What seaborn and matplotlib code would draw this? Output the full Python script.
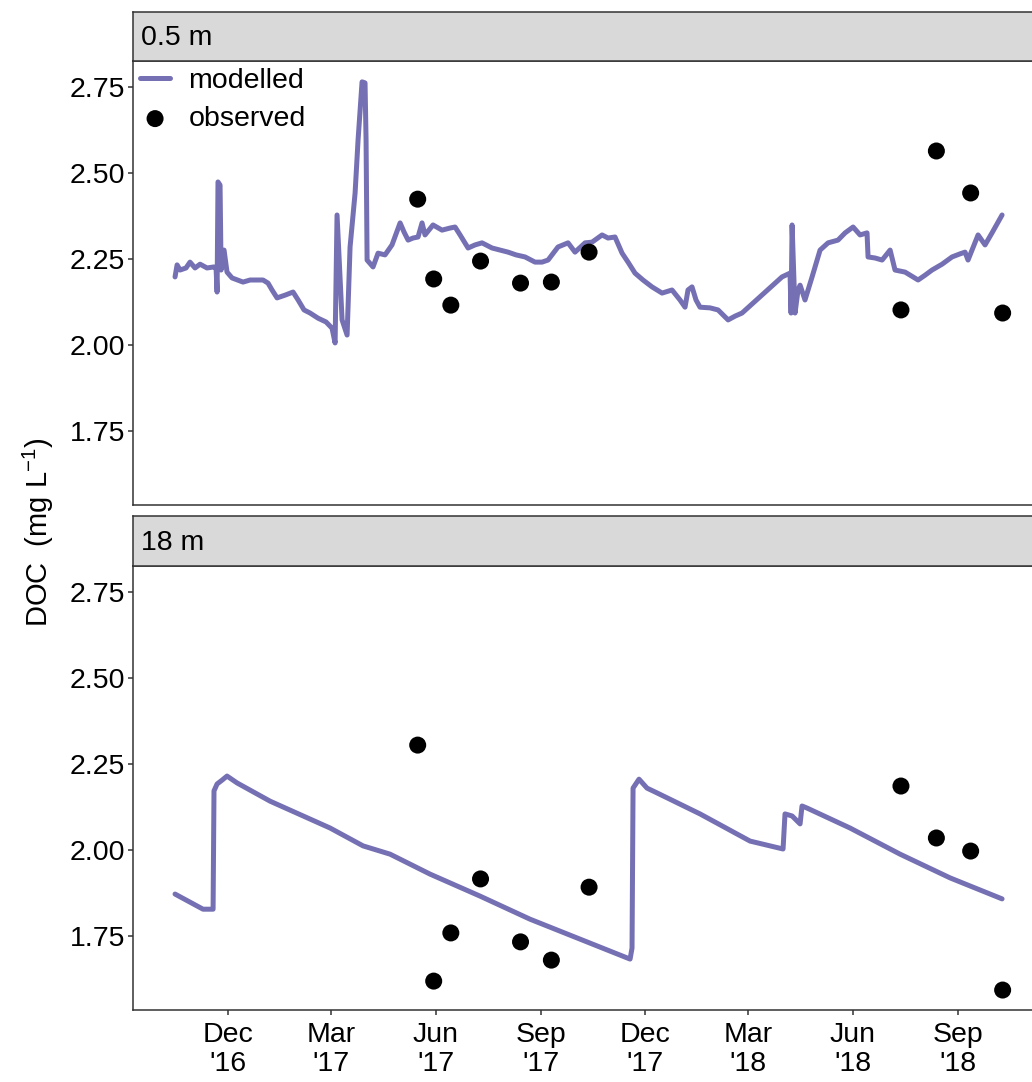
import pandas as pd
import matplotlib
matplotlib.use("Agg")
import matplotlib.pyplot as plt
import matplotlib.dates as mdates
from matplotlib.ticker import FuncFormatter
import seaborn as sns

# ---------------------------------------------------------------------------
# Data
# ---------------------------------------------------------------------------
origin = pd.Timestamp("2016-12-01")

# Modelled DOC at 0.5 m (days since 1 Dec 2016, mg/L)
surface_days = [
    -46.4, -44.6, -42.0, -36.8, -33.3, -28.9, -24.5, -18.4, -12.3, -10.5,
    -9.6, -8.8, -7.0, -6.1, -3.5, -0.9, 3.5, 13.1, 19.3, 30.6,
    35.0, 38.5, 42.9, 49.9, 56.9, 61.3, 66.5, 71.8, 78.8, 85.8,
    91.0, 93.7, 95.4, 99.8, 104.2, 106.8, 111.2, 113.8, 117.3, 119.9,
    120.8, 121.7, 126.9, 131.3, 137.4, 143.5, 150.6, 154.1, 157.6, 161.9,
    166.3, 169.8, 172.4, 179.4, 187.3, 194.3, 198.7, 203.1, 210.1, 216.2,
    222.3, 231.1, 238.1, 245.1, 252.1, 260.0, 268.7, 274.8, 280.1, 288.8,
    297.6, 303.7, 312.5, 318.6, 327.4, 332.6, 338.7, 344.9, 350.1, 356.2,
    363.2, 371.1, 379.9, 388.6, 395.6, 400.0, 402.6, 406.1, 409.6, 413.1,
    421.9, 428.9, 437.7, 443.8, 449.9, 484.9, 491.9, 492.8, 493.7, 496.3,
    498.9, 500.7, 505.0, 511.2, 518.2, 525.2, 533.9, 540.1, 547.1, 553.2,
    559.3, 560.2, 566.3, 572.5, 579.5, 583.8, 592.6, 604.0, 610.1, 616.2,
    625.0, 633.7, 640.7, 645.1, 647.7, 656.5, 662.6, 668.7, 677.5,
]
surface_doc = [
    2.198, 2.233, 2.218, 2.224, 2.241, 2.224, 2.235, 2.224, 2.227, 2.224,
    2.154, 2.474, 2.465, 2.218, 2.276, 2.212, 2.195, 2.183, 2.189, 2.189,
    2.180, 2.160, 2.137, 2.145, 2.154, 2.131, 2.102, 2.093, 2.078, 2.067,
    2.049, 2.006, 2.378, 2.073, 2.029, 2.285, 2.442, 2.596, 2.765, 2.762,
    2.596, 2.247, 2.227, 2.267, 2.262, 2.291, 2.355, 2.328, 2.305, 2.311,
    2.314, 2.355, 2.320, 2.349, 2.334, 2.340, 2.343, 2.320, 2.282, 2.291,
    2.297, 2.282, 2.276, 2.270, 2.262, 2.256, 2.241, 2.241, 2.247, 2.285,
    2.297, 2.270, 2.297, 2.299, 2.320, 2.311, 2.314, 2.267, 2.241, 2.209,
    2.189, 2.169, 2.151, 2.160, 2.131, 2.110, 2.160, 2.169, 2.131, 2.110,
    2.108, 2.102, 2.073, 2.084, 2.093, 2.198, 2.209, 2.093, 2.349, 2.093,
    2.160, 2.174, 2.131, 2.198, 2.276, 2.297, 2.305, 2.326, 2.343, 2.320,
    2.326, 2.256, 2.253, 2.247, 2.276, 2.218, 2.212, 2.189, 2.203, 2.218,
    2.235, 2.256, 2.265, 2.270, 2.247, 2.320, 2.291, 2.326, 2.378,
]

# Modelled DOC at 18 m (days since 1 Dec 2016, mg/L)
deep_days = [
    -46.4, -21.9, -13.1, -12.3, -9.6, -5.3, -0.9, 7.9, 36.8, 89.3,
    118.2, 141.8, 176.8, 220.6, 264.3, 308.1, 351.9, 353.6, 354.5, 359.7,
    366.7, 375.5, 413.1, 456.9, 485.8, 487.5, 493.7, 500.7, 502.4, 506.8,
    544.4, 588.2, 632.0, 677.5,
]
deep_doc = [
    1.872, 1.828, 1.828, 2.172, 2.192, 2.203, 2.215, 2.195, 2.142, 2.064,
    2.012, 1.988, 1.930, 1.866, 1.799, 1.741, 1.683, 1.715, 2.180, 2.206,
    2.180, 2.166, 2.105, 2.026, 2.003, 2.105, 2.099, 2.076, 2.128, 2.122,
    2.064, 1.988, 1.919, 1.858,
]

# Observed DOC samples
obs_dates = [
    "2017-05-16", "2017-05-30", "2017-06-14", "2017-07-10", "2017-08-14",
    "2017-09-10", "2017-10-13", "2018-07-13", "2018-08-13", "2018-09-12",
    "2018-10-10",
]
obs_surface = [2.424, 2.192, 2.116, 2.244, 2.180, 2.183, 2.270,
               2.102, 2.564, 2.442, 2.093]
obs_deep = [2.305, 1.619, 1.759, 1.916, 1.733, 1.680, 1.892,
            2.186, 2.035, 1.997, 1.593]

panel_labels = ["0.5 m", "18 m"]

# ---------------------------------------------------------------------------
# Style
# ---------------------------------------------------------------------------
sns.set_theme(style="white")
plt.rcParams["font.family"] = ["Liberation Sans", "DejaVu Sans"]
plt.rcParams["text.color"] = "black"
plt.rcParams["mathtext.fontset"] = "custom"
plt.rcParams["mathtext.rm"] = "Liberation Sans"
plt.rcParams["mathtext.it"] = "Liberation Sans:italic"
plt.rcParams["mathtext.default"] = "regular"

FS = 20.5
LINE_COL = "#7570B3"
FRAME_COL = "#333333"
STRIP_COL = "#D9D9D9"

W, H = 1032, 1082
fig = plt.figure(figsize=(W / 100, H / 100), dpi=100)


def fx(px):
    return px / W


def fy(py):
    return 1 - py / H


left_px, right_px = 133, 1044
panels = [(12, 61, 505), (516, 566, 1010)]

x_lo = origin + pd.Timedelta(days=-83.2)
x_hi = origin + pd.Timedelta(days=714.2)
y_lo, y_hi = 1.535, 2.8256

obs_dt = pd.to_datetime(obs_dates)
series = [
    (surface_days, surface_doc, obs_surface),
    (deep_days, deep_doc, obs_deep),
]

for i, ((strip_top, top, bottom), (mdays, mvals, ovals)) in enumerate(zip(panels, series)):
    ax = fig.add_axes([fx(left_px), fy(bottom), fx(right_px - left_px), (bottom - top) / H])
    mdt = origin + pd.to_timedelta(mdays, unit="D")
    sns.lineplot(x=mdt, y=mvals, ax=ax, color=LINE_COL, linewidth=3.6,
                 estimator=None, sort=False,
                 label="modelled" if i == 0 else None, zorder=2)
    sns.scatterplot(x=obs_dt, y=ovals, ax=ax, color="black", s=150,
                    edgecolor="none", label="observed" if i == 0 else None,
                    zorder=3)
    ax.set_xlim(x_lo, x_hi)
    ax.set_ylim(y_lo, y_hi)
    ax.set_yticks([1.75, 2.00, 2.25, 2.50, 2.75])
    ax.set_yticklabels(["1.75", "2.00", "2.25", "2.50", "2.75"])
    ax.set_xlabel("")
    ax.set_ylabel("")
    for s in ax.spines.values():
        s.set_color(FRAME_COL)
        s.set_linewidth(1.1)
    ax.tick_params(axis="both", direction="out", length=3.6, width=1.1,
                   color=FRAME_COL, labelsize=FS, labelcolor="black", pad=2,
                   left=True, bottom=True)
    ax.xaxis.set_major_locator(mdates.MonthLocator(bymonth=[3, 6, 9, 12]))
    ax.xaxis.set_major_formatter(FuncFormatter(
        lambda v, pos: mdates.num2date(v).strftime("%b\n'%y")))
    if i == 0:
        ax.tick_params(axis="x", bottom=False, labelbottom=False)
        leg = ax.legend(loc="upper left", bbox_to_anchor=(0.0, 1.0), frameon=False,
                        fontsize=FS, handlelength=1.05, handletextpad=0.65,
                        labelspacing=0.42, borderaxespad=0.15, borderpad=0.1,
                        markerscale=1.0)
        for t in leg.get_texts():
            t.set_color("black")
    else:
        ax.tick_params(axis="x", pad=5)
        for lbl in ax.get_xticklabels():
            lbl.set_linespacing(1.15)

    # facet strip
    sax = fig.add_axes([fx(left_px), fy(top), fx(right_px - left_px), (top - strip_top) / H])
    sax.set_facecolor(STRIP_COL)
    sax.set_xticks([])
    sax.set_yticks([])
    for s in sax.spines.values():
        s.set_color(FRAME_COL)
        s.set_linewidth(1.1)
    sax.text((141 - left_px) / (right_px - left_px), 0.47, panel_labels[i],
             transform=sax.transAxes, ha="left", va="center", fontsize=FS,
             color="black")

fig.text(fx(38), fy(532), "DOC  (mg L$^{-1}$)", rotation=90, ha="center",
         va="center", fontsize=FS + 0.5, color="black")

fig.savefig("out.png", dpi=100)
